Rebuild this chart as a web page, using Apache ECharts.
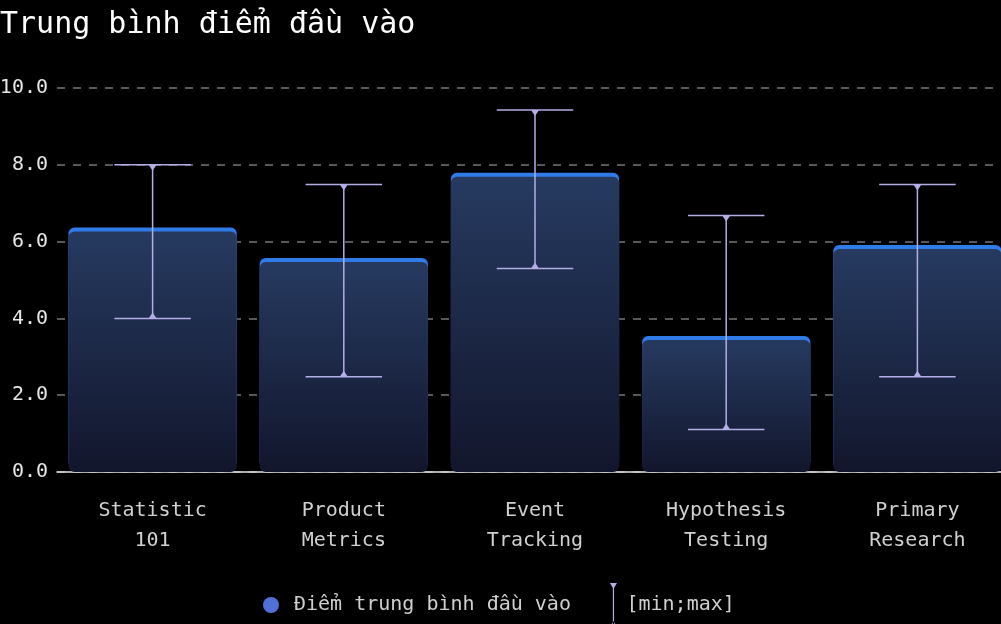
<!DOCTYPE html>
<html>
<head>
    <meta charset="UTF-8">
    <title>Trung bình điểm đầu vào</title>
    <style>
        *{
            margin: 0;
            padding: 0;
        }
        body{
            background: #000;
            overflow: hidden;
        }
        .container{
            width: 1001px;
            height: 624px;
        }
    </style>
    <script src="https://cdn.jsdelivr.net/npm/echarts@6/dist/echarts.min.js"></script>
</head>
<body>
<div class="container"></div>
<script>
    // data
    let courses=['Statistic\n101','Product\nMetrics','Event\nTracking','Hypothesis\nTesting','Primary\nResearch']
    let avgScore=[6.26,5.47,7.69,3.44,5.81]
    let minScore=[4.0,2.48,5.3,1.11,2.48]
    let maxScore=[8.0,7.49,9.43,6.68,7.49]
    let yTicks=[0,2,4,6,8,10]

    let font='DejaVu Sans Mono'
    let errColor='#b4aee6'

    let container=document.querySelector('.container')
    let mychart=echarts.init(container)

    let errData=courses.map((c,i)=>[i,minScore[i],maxScore[i]])

    let option={
        backgroundColor:'#000',
        title:{
            text:'Trung bình điểm đầu vào',
            left:0,
            top:10,
            padding:0,
            textStyle:{
                color:'#fff',
                fontFamily:font,
                fontSize:30,
                fontWeight:'normal'
            }
        },
        legend:{
            top:578,
            left:258,
            itemWidth:16,
            itemHeight:44,
            itemGap:39,
            textStyle:{
                color:'#cfcfcf',
                fontFamily:font,
                fontSize:20
            },
            data:[
                {
                    name:'Điểm trung bình đầu vào',
                    icon:'circle',
                    itemStyle:{color:'#4f70d6'},
                    textStyle:{padding:[0,0,0,10]}
                },
                {
                    name:'[min;max]',
                    icon:'path://M7.4,0 L8.6,0 L8.6,44 L7.4,44 Z M4.5,0 L11.5,0 L8,6 Z M4.5,44 L11.5,44 L8,38 Z',
                    itemStyle:{color:errColor}
                }
            ]
        },
        grid:{
            left:57,
            right:-12,
            top:88,
            bottom:152,
            outerBoundsMode:'none'
        },
        xAxis:{
            type:'category',
            data:courses,
            axisLine:{lineStyle:{color:'#e6e6e6',width:1.5}},
            axisTick:{show:false},
            axisLabel:{
                color:'#d0d0d0',
                fontFamily:font,
                fontSize:20,
                lineHeight:30,
                margin:24,
                interval:0
            }
        },
        yAxis:{
            type:'value',
            min:yTicks[0],
            max:yTicks[yTicks.length-1],
            interval:2,
            axisLine:{show:false},
            axisTick:{show:false},
            axisLabel:{
                color:'#e6e6e6',
                fontFamily:font,
                fontSize:20,
                margin:9,
                formatter:v=>v.toFixed(1)
            },
            splitLine:{
                lineStyle:{
                    type:[8,8],
                    color:'#74747c',
                    width:1.5
                }
            }
        },
        series:[
            {
                name:'Điểm trung bình đầu vào',
                type:'bar',
                data:avgScore,
                barCategoryGap:'12%',
                itemStyle:{
                    borderRadius:6,
                    color:new echarts.graphic.LinearGradient(0,0,0,1,[
                        {offset:0,color:'#263a60'},
                        {offset:1,color:'#12162c'}
                    ]),
                    shadowColor:'#2f7be8',
                    shadowBlur:0,
                    shadowOffsetY:-4
                },
                emphasis:{disabled:true}
            },
            {
                name:'[min;max]',
                type:'custom',
                z:5,
                data:errData,
                itemStyle:{color:errColor},
                renderItem:function(params,api){
                    let x=api.value(0)
                    let lo=api.coord([x,api.value(1)])
                    let hi=api.coord([x,api.value(2)])
                    let half=api.size([1,0])[0]*0.2
                    let st={stroke:errColor,lineWidth:1.5}
                    return {
                        type:'group',
                        children:[
                            {type:'line',shape:{x1:hi[0],y1:hi[1],x2:lo[0],y2:lo[1]},style:st},
                            {type:'line',shape:{x1:hi[0]-half,y1:hi[1],x2:hi[0]+half,y2:hi[1]},style:st},
                            {type:'line',shape:{x1:lo[0]-half,y1:lo[1],x2:lo[0]+half,y2:lo[1]},style:st},
                            {type:'polygon',shape:{points:[[hi[0]-4,hi[1]],[hi[0]+4,hi[1]],[hi[0],hi[1]+6]]},style:{fill:errColor}},
                            {type:'polygon',shape:{points:[[lo[0]-4,lo[1]],[lo[0]+4,lo[1]],[lo[0],lo[1]-6]]},style:{fill:errColor}}
                        ]
                    }
                }
            }
        ]
    }
    mychart.setOption(option)
</script>
</body>
</html>
